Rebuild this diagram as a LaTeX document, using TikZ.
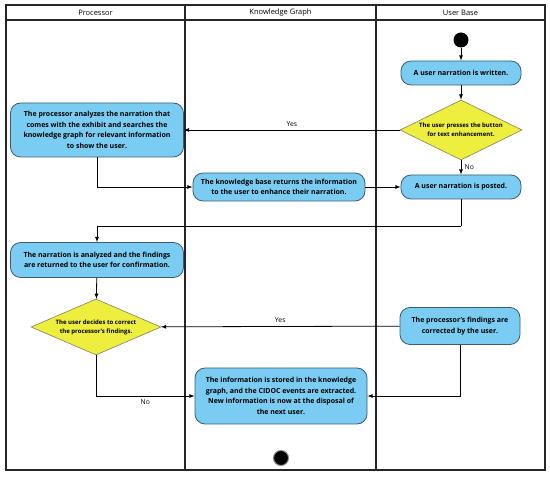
\documentclass[tikz,border=0pt]{standalone}
\usepackage{fontspec}
\setmainfont{Open Sans}
\usetikzlibrary{shapes.geometric}
\definecolor{actblue}{RGB}{122,204,242}
\definecolor{actedge}{RGB}{62,92,112}
\definecolor{decyellow}{RGB}{238,238,62}
\definecolor{decedge}{RGB}{128,128,96}

\begin{document}
\begin{tikzpicture}[x=1pt,y=-1pt,>=latex,
  lane/.style={draw=black!85,line width=1.1pt},
  hdr/.style={font=\fontsize{7.5}{8}\selectfont},
  act/.style={draw=actedge,fill=actblue,rounded corners=10pt,line width=0.8pt,
    align=center,inner sep=3pt,font=\fontsize{7}{10.5}\selectfont\bfseries},
  dec/.style={draw=decedge,fill=decyellow,diamond,aspect=2,line width=0.6pt,
    inner xsep=-4pt,inner ysep=-2pt,align=center,font=\fontsize{6}{9}\selectfont\bfseries},
  lbl/.style={font=\fontsize{6.8}{8}\selectfont},
  flow/.style={->,line width=0.8pt}]
\useasboundingbox (0,0) rectangle (550,481);
% swimlanes
\draw[lane] (6,5) rectangle (545,470);
\draw[lane] (6,20) -- (545,20);
\draw[lane] (185,5) -- (185,470);
\draw[lane] (376,5) -- (376,470);
\node[hdr] (hproc) at (95.5,12.5) {Processor};
\node[hdr] (hkg) at (280.5,12.5) {Knowledge Graph};
\node[hdr] (huser) at (460.5,12.5) {User Base};
% activities
\node[circle,fill=black,minimum size=15pt,inner sep=0pt] (start) at (461,40) {};
\node[act,minimum width=120pt,minimum height=24pt] (written) at (461,73) {A user narration is written.};
\node[dec,minimum width=122pt,minimum height=60pt] (press) at (461,130) {The user presses the button\\for text enhancement.};
\node[act,minimum width=120pt,minimum height=24pt] (posted) at (461,187) {A user narration is posted.};
\node[act,minimum width=173pt,minimum height=54pt] (analyze) at (97,130) {The processor analyzes the narration that\\comes with the exhibit and searches the\\knowledge graph for relevant information\\to show the user.};
\node[act,minimum width=172pt,minimum height=28pt] (kbret) at (279,187) {The knowledge base returns the information\\to the user to enhance their narration.};
\node[act,minimum width=173pt,minimum height=35pt] (checked) at (97,260) {The narration is analyzed and the findings\\are returned to the user for confirmation.};
\node[dec,minimum width=130pt,minimum height=56pt] (decide) at (96,327) {The user decides to correct\\the processor's findings.};
\node[act,minimum width=120pt,minimum height=37pt] (corrected) at (460,326) {The processor's findings are\\corrected by the user.};
\node[act,minimum width=172pt,minimum height=56pt] (stored) at (281,396) {The information is stored in the knowledge\\graph, and the CIDOC events are extracted.\\New information is now at the disposal of\\the next user.};
\node[circle,fill=black,draw=black!45,line width=1pt,minimum size=15pt,inner sep=0pt] (finish) at (281,458) {};
\coordinate (turn) at (461,226);
% flows
\draw[flow] (start) -- (written);
\draw[flow] (written) -- (press);
\draw[flow] (press) -- node[right,lbl] {No} (posted);
\draw[flow] (press) -- node[above,lbl] {Yes} (analyze);
\draw[flow] (analyze.south) |- (kbret.west);
\draw[flow] (kbret) -- (posted);
\draw[line width=0.8pt] (posted) -- (turn);
\draw[flow] (turn) -| (checked.north);
\draw[flow] (checked) -- (decide);
\draw[flow] (corrected) -- node[above,lbl] {Yes} (decide);
\draw[flow] (decide.south) |- node[pos=0.75,below,lbl] {No} (stored.west);
\draw[flow] (corrected.south) |- (stored.east);
\end{tikzpicture}
\end{document}
